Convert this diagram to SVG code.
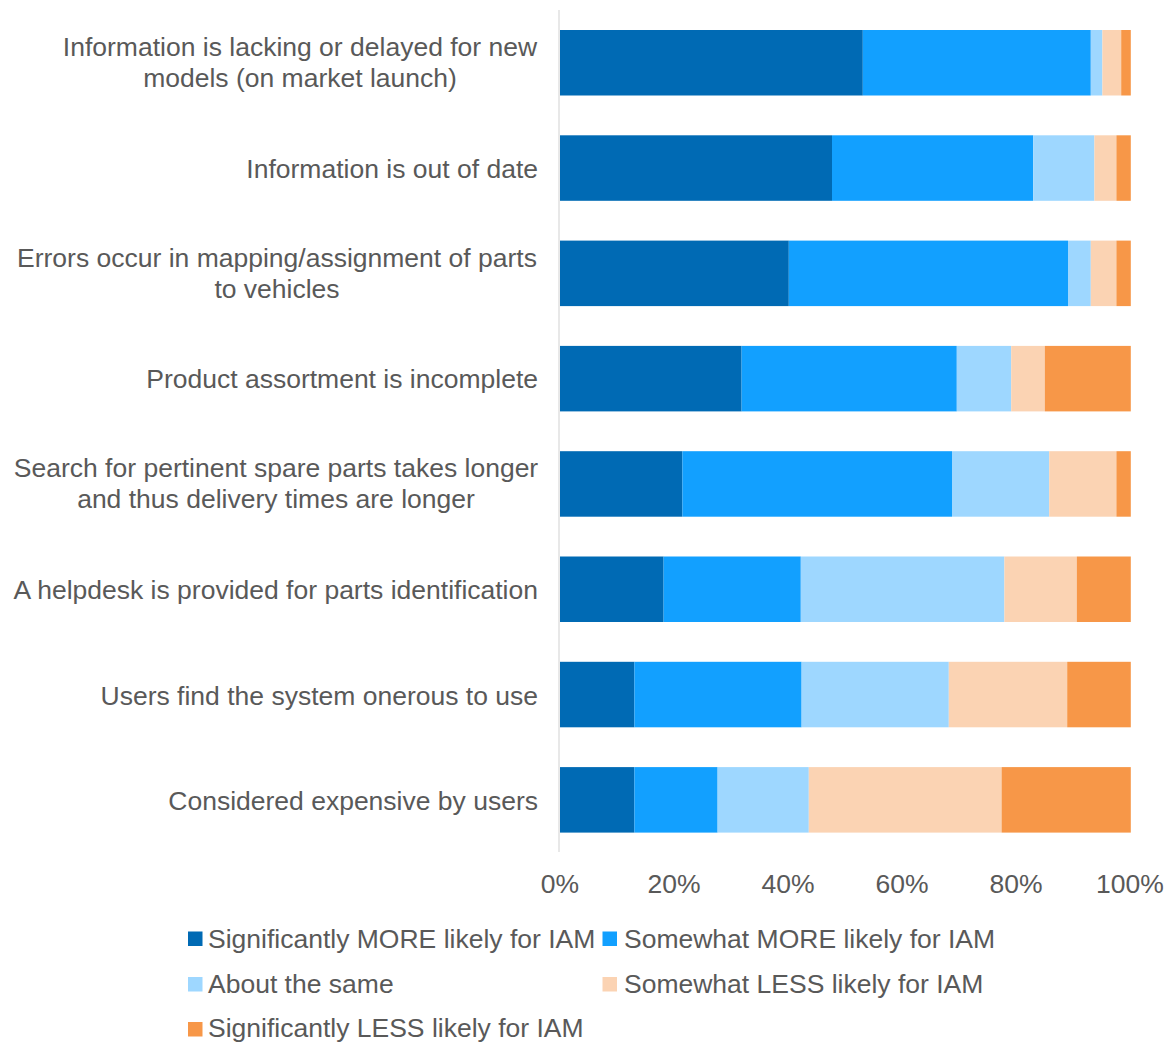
<svg xmlns="http://www.w3.org/2000/svg" width="1176" height="1043" viewBox="0 0 1176 1043">
<style>
text{font-family:"Liberation Sans",Arial,sans-serif;font-size:26.5px;fill:#595959}
.lab{text-anchor:end}
.mid{text-anchor:middle}
.c1{fill:#006AB4}.c2{fill:#12A0FF}.c3{fill:#9ED7FF}.c4{fill:#FBD3B3}.c5{fill:#F79748}
</style>
<rect width="1176" height="1043" fill="#ffffff"/>
<g id="axis">
<line x1="559" y1="10" x2="559" y2="852" stroke="#D9D9D9" stroke-width="1.2"/>
<text class="mid" x="560" y="893">0%</text>
<text class="mid" x="674" y="893">20%</text>
<text class="mid" x="788" y="893">40%</text>
<text class="mid" x="902" y="893">60%</text>
<text class="mid" x="1016" y="893">80%</text>
<text class="mid" x="1130" y="893">100%</text>
</g>
<g id="bar1">
<rect class="c1" x="560" y="30" width="302.8" height="65.5"/>
<rect class="c2" x="862.8" y="30" width="228" height="65.5"/>
<rect class="c3" x="1090.8" y="30" width="11.6" height="65.5"/>
<rect class="c4" x="1102.4" y="30" width="18.8" height="65.5"/>
<rect class="c5" x="1121.2" y="30" width="9.6" height="65.5"/>
<text class="mid" x="300" y="56">Information is lacking or delayed for new</text>
<text class="mid" x="300" y="87">models (on market launch)</text>
</g>
<g id="bar2">
<rect class="c1" x="560" y="135.3" width="272" height="65.5"/>
<rect class="c2" x="832" y="135.3" width="201.2" height="65.5"/>
<rect class="c3" x="1033.2" y="135.3" width="61.2" height="65.5"/>
<rect class="c4" x="1094.4" y="135.3" width="22" height="65.5"/>
<rect class="c5" x="1116.4" y="135.3" width="14.4" height="65.5"/>
<text class="lab" x="538" y="177.5">Information is out of date</text>
</g>
<g id="bar3">
<rect class="c1" x="560" y="240.6" width="228.8" height="65.5"/>
<rect class="c2" x="788.8" y="240.6" width="279.2" height="65.5"/>
<rect class="c3" x="1068" y="240.6" width="22.8" height="65.5"/>
<rect class="c4" x="1090.8" y="240.6" width="25.6" height="65.5"/>
<rect class="c5" x="1116.4" y="240.6" width="14.4" height="65.5"/>
<text class="mid" x="277" y="267">Errors occur in mapping/assignment of parts</text>
<text class="mid" x="277" y="298">to vehicles</text>
</g>
<g id="bar4">
<rect class="c1" x="560" y="345.9" width="181.6" height="65.5"/>
<rect class="c2" x="741.6" y="345.9" width="215.2" height="65.5"/>
<rect class="c3" x="956.8" y="345.9" width="54.4" height="65.5"/>
<rect class="c4" x="1011.2" y="345.9" width="33.6" height="65.5"/>
<rect class="c5" x="1044.8" y="345.9" width="86" height="65.5"/>
<text class="lab" x="538" y="388">Product assortment is incomplete</text>
</g>
<g id="bar5">
<rect class="c1" x="560" y="451.2" width="122.4" height="65.5"/>
<rect class="c2" x="682.4" y="451.2" width="269.6" height="65.5"/>
<rect class="c3" x="952" y="451.2" width="97.2" height="65.5"/>
<rect class="c4" x="1049.2" y="451.2" width="67.2" height="65.5"/>
<rect class="c5" x="1116.4" y="451.2" width="14.4" height="65.5"/>
<text class="mid" x="276" y="477">Search for pertinent spare parts takes longer</text>
<text class="mid" x="276" y="508">and thus delivery times are longer</text>
</g>
<g id="bar6">
<rect class="c1" x="560" y="556.5" width="103.6" height="65.5"/>
<rect class="c2" x="663.6" y="556.5" width="137.2" height="65.5"/>
<rect class="c3" x="800.8" y="556.5" width="203.6" height="65.5"/>
<rect class="c4" x="1004.4" y="556.5" width="72.4" height="65.5"/>
<rect class="c5" x="1076.8" y="556.5" width="54" height="65.5"/>
<text class="lab" x="538" y="599">A helpdesk is provided for parts identification</text>
</g>
<g id="bar7">
<rect class="c1" x="560" y="661.8" width="74.4" height="65.5"/>
<rect class="c2" x="634.4" y="661.8" width="167.2" height="65.5"/>
<rect class="c3" x="801.6" y="661.8" width="147.2" height="65.5"/>
<rect class="c4" x="948.8" y="661.8" width="118.4" height="65.5"/>
<rect class="c5" x="1067.2" y="661.8" width="63.6" height="65.5"/>
<text class="lab" x="538" y="704.5">Users find the system onerous to use</text>
</g>
<g id="bar8">
<rect class="c1" x="560" y="767.1" width="74.4" height="65.5"/>
<rect class="c2" x="634.4" y="767.1" width="83.2" height="65.5"/>
<rect class="c3" x="717.6" y="767.1" width="91.2" height="65.5"/>
<rect class="c4" x="808.8" y="767.1" width="192.8" height="65.5"/>
<rect class="c5" x="1001.6" y="767.1" width="129.2" height="65.5"/>
<text class="lab" x="538" y="809.5">Considered expensive by users</text>
</g>
<g id="legend">
<rect class="c1" x="188" y="931.5" width="14.5" height="14.5"/>
<text x="208" y="948">Significantly MORE likely for IAM</text>
<rect class="c2" x="602.5" y="931.5" width="14.5" height="14.5"/>
<text x="624" y="948">Somewhat MORE likely for IAM</text>
<rect class="c3" x="188" y="977" width="14.5" height="14.5"/>
<text x="208" y="993">About the same</text>
<rect class="c4" x="602.5" y="977" width="14.5" height="14.5"/>
<text x="624" y="993">Somewhat LESS likely for IAM</text>
<rect class="c5" x="188" y="1022" width="14.5" height="14.5"/>
<text x="208" y="1037">Significantly LESS likely for IAM</text>
</g>
</svg>
